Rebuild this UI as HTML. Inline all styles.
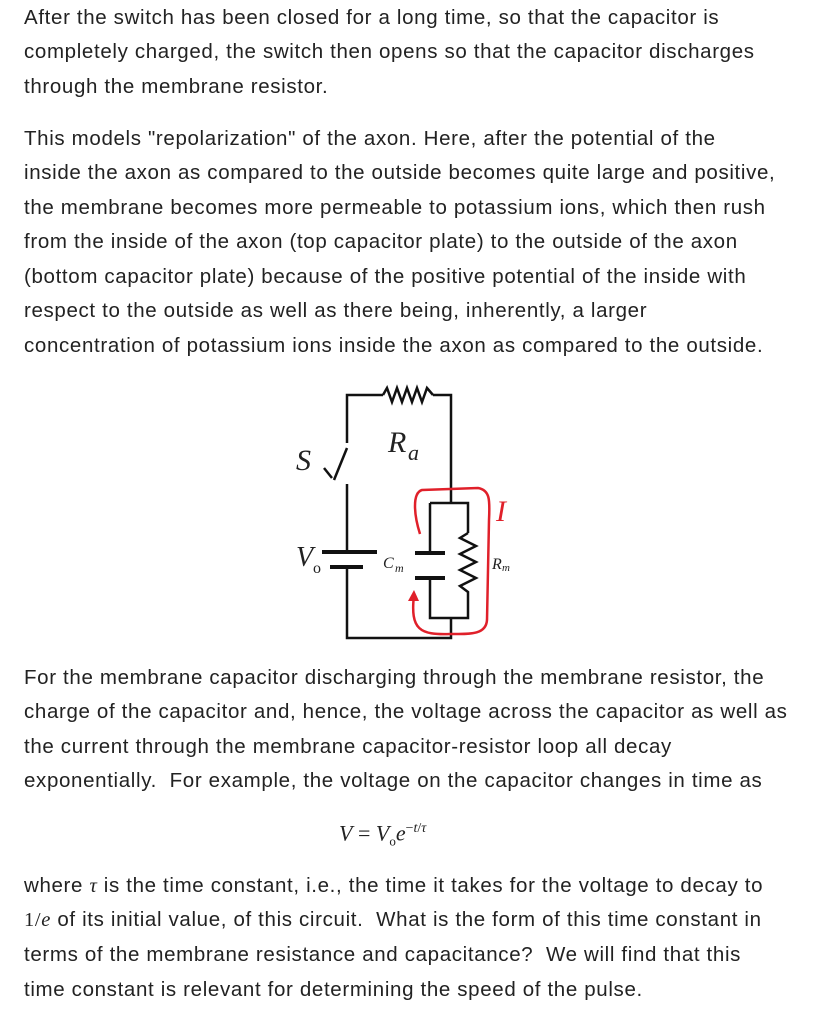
<!DOCTYPE html>
<html><head><meta charset="utf-8"><style>
body{margin:0;background:#fff;width:817px;height:1024px;position:relative;overflow:hidden;font-family:"Liberation Sans",sans-serif;color:#222}
.l{position:absolute;left:24px;font-size:20.5px;letter-spacing:0.65px;white-space:nowrap;line-height:22px}
.m{font-family:"Liberation Serif",serif;font-style:italic}
</style></head><body>
<div class="l" style="top:7px">After the switch has been closed for a long time, so that the capacitor is</div>
<div class="l" style="top:41px">completely charged, the switch then opens so that the capacitor discharges</div>
<div class="l" style="top:76px">through the membrane resistor.</div>
<div class="l" style="top:128px">This models "repolarization" of the axon. Here, after the potential of the</div>
<div class="l" style="top:162px">inside the axon as compared to the outside becomes quite large and positive,</div>
<div class="l" style="top:197px">the membrane becomes more permeable to potassium ions, which then rush</div>
<div class="l" style="top:231px">from the inside of the axon (top capacitor plate) to the outside of the axon</div>
<div class="l" style="top:266px">(bottom capacitor plate) because of the positive potential of the inside with</div>
<div class="l" style="top:300px">respect to the outside as well as there being, inherently, a larger</div>
<div class="l" style="top:335px">concentration of potassium ions inside the axon as compared to the outside.</div>

<svg style="position:absolute;left:0;top:0" width="817" height="1024">
<g fill="none" stroke="#111" stroke-width="2.5">
<polyline points="347,443 347,395 383,395"/>
<polyline points="383,395 387,388 392,402 397,388 402,402 407,388 412,402 417,388 422,402 427,388 433,395"/>
<polyline points="433,395 451,395 451,503"/>
<line x1="347" y1="448" x2="334" y2="480"/>
<polyline points="324,468 332,478" />
<polyline points="347,484 347,552"/>
<polyline points="347,567 347,638 451,638 451,618"/>
<polyline points="430,503 468,503 468,533"/>
<polyline points="468,533 460,538 476,546 460,554 476,562 460,570 476,578 460,586 468,592 468,618 430,618 430,578"/>
<polyline points="430,503 430,553"/>
</g>
<g fill="#111">
<rect x="322" y="550" width="55" height="4"/>
<rect x="330" y="565" width="33" height="4"/>
<rect x="415" y="551" width="30" height="4"/>
<rect x="415" y="576" width="30" height="4"/>
</g>
<path d="M420,534 C414,515 412,493 422,490 L478,488 C490,490 490,500 489,520 L487,620 C486,635 470,634 450,634 C420,635 410,630 414,595" fill="none" stroke="#e0202a" stroke-width="2.5"/>
<polygon points="414,590 408,601 419,601" fill="#e0202a"/>
<text x="296" y="470" font-family="Liberation Serif" font-style="italic" font-size="30" fill="#222">S</text>
<text x="388" y="452" font-family="Liberation Serif" font-style="italic" font-size="30" fill="#222">R</text>
<text x="408" y="460" font-family="Liberation Serif" font-style="italic" font-size="22" fill="#222">a</text>
<text x="296" y="566" font-family="Liberation Serif" font-style="italic" font-size="28" fill="#222">V</text>
<text x="313" y="573" font-family="Liberation Serif" font-size="16" fill="#222">o</text>
<text x="383" y="568" font-family="Liberation Serif" font-style="italic" font-size="16" fill="#222">C</text>
<text x="395" y="572" font-family="Liberation Serif" font-style="italic" font-size="12" fill="#222">m</text>
<text x="492" y="569" font-family="Liberation Serif" font-style="italic" font-size="16" fill="#222">R</text>
<text x="502" y="571" font-family="Liberation Serif" font-style="italic" font-size="11" fill="#222">m</text>
<text x="496" y="521" font-family="Liberation Serif" font-style="italic" font-size="30" fill="#e0202a">I</text>
</svg>

<div class="l" style="top:667px">For the membrane capacitor discharging through the membrane resistor, the</div>
<div class="l" style="top:701px">charge of the capacitor and, hence, the voltage across the capacitor as well as</div>
<div class="l" style="top:736px">the current through the membrane capacitor-resistor loop all decay</div>
<div class="l" style="top:770px">exponentially.&nbsp; For example, the voltage on the capacitor changes in time as</div>
<div class="l" style="top:818px;left:339px;font-size:22px;letter-spacing:0;font-family:'Liberation Serif',serif"><span class="m">V</span> = <span class="m">V</span><sub style="font-size:13px">o</sub><span class="m">e</span><sup style="font-size:14px">−<span class="m">t</span>/<span class="m">τ</span></sup></div>
<div class="l" style="top:875px">where <span class="m">τ</span> is the time constant, i.e., the time it takes for the voltage to decay to</div>
<div class="l" style="top:909px"><span style="font-family:'Liberation Serif',serif">1/<i>e</i></span> of its initial value, of this circuit.&nbsp; What is the form of this time constant in</div>
<div class="l" style="top:944px">terms of the membrane resistance and capacitance?&nbsp; We will find that this</div>
<div class="l" style="top:979px">time constant is relevant for determining the speed of the pulse.</div>
</body></html>
